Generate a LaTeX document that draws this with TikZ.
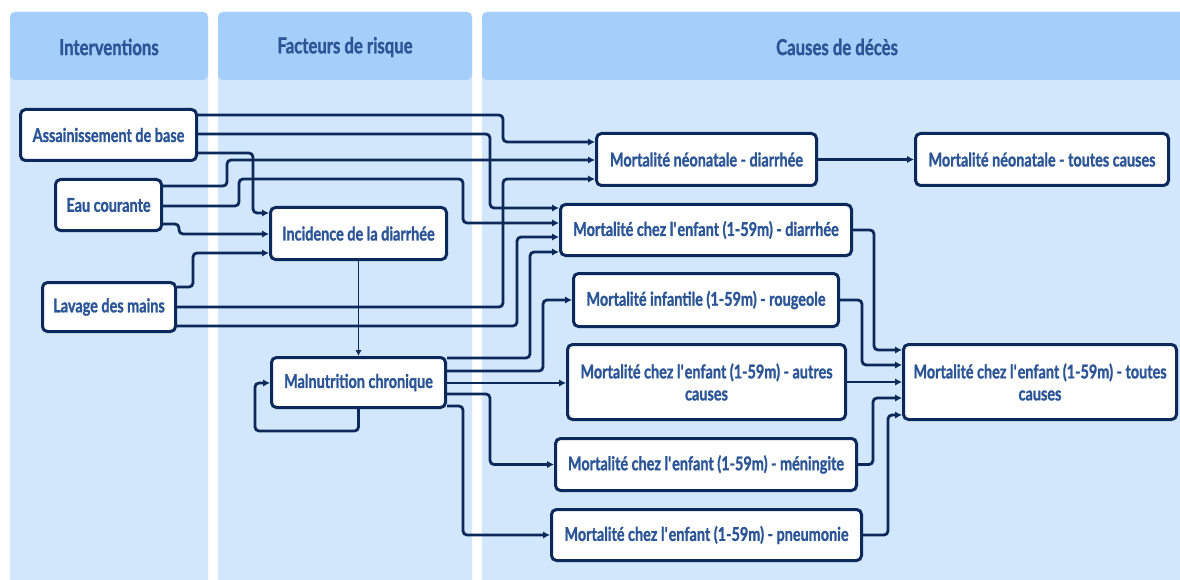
\documentclass[tikz,border=0pt]{standalone}
\usepackage{fontspec}
\setmainfont{Lato}[FakeStretch=0.76, BoldFeatures={FakeBold=1.2}]
\usetikzlibrary{arrows.meta}
\definecolor{navy}{HTML}{0B2A5B}
\definecolor{txtblue}{HTML}{2B5596}
\definecolor{headbg}{HTML}{A6CEFA}
\definecolor{lanebg}{HTML}{D3E7FC}
\newcommand{\apo}{\textquotesingle}
\tikzset{
  lane/.style={fill=lanebg, draw=none, rounded corners=5pt},
  head/.style={fill=headbg, draw=none, rounded corners=5pt},
  headtxt/.style={text=txtblue, font=\fontsize{22}{25}\selectfont\bfseries},
  box/.style={draw=navy, line width=3pt, rounded corners=5pt, fill=white, text=txtblue,
     font=\fontsize{19}{22}\selectfont\bfseries, inner sep=0pt, align=center},
  arr/.style={draw=navy, line width=2.8pt, rounded corners=4pt, -{Latex[length=7pt,width=7.5pt]}},
  thinarr/.style={draw=navy, line width=1.8pt, -{Latex[length=6pt,width=6.5pt]}},
}
\begin{document}
\begin{tikzpicture}[x=1pt,y=-1pt]
\useasboundingbox (0,0) rectangle (1180,580);
\fill[white] (0,0) rectangle (1180,580);
% lanes
\path[lane] (10,12) rectangle (208,600);
\path[lane] (218,12) rectangle (472,600);
\path[lane] (482,12) rectangle (1195,600);
\path[head] (10,12) rectangle (208,80);
\path[head] (218,12) rectangle (472,80);
\path[head] (482,12) rectangle (1195,80);
\node[headtxt] (h1) at (109,47) {Interventions};
\node[headtxt] (h2) at (345,47) {Facteurs de risque};
\node[headtxt] (h3) at (837,47) {Causes de décès};
% nodes
\node[box, minimum width=176pt, minimum height=51pt] (A) at (108.5,135) {Assainissement de base};
\node[box, minimum width=106pt, minimum height=51pt] (E) at (108.5,205) {Eau courante};
\node[box, minimum width=133pt, minimum height=49pt] (L) at (109,307) {Lavage des mains};
\node[box, minimum width=176pt, minimum height=52pt] (Inc) at (358.5,233.5) {Incidence de la diarrhée};
\node[box, minimum width=174pt, minimum height=50pt] (M) at (358.5,382.5) {Malnutrition chronique};
\node[box, minimum width=220pt, minimum height=52pt] (ND) at (706.5,159.5) {Mortalité néonatale - diarrhée};
\node[box, minimum width=253pt, minimum height=52pt] (NDall) at (1042,159.5) {Mortalité néonatale - toutes causes};
\node[box, minimum width=291pt, minimum height=51pt] (ED) at (706,230) {Mortalité chez l\apo enfant (1-59m) - diarrhée};
\node[box, minimum width=265pt, minimum height=53pt] (R) at (706,300) {Mortalité infantile (1-59m) - rougeole};
\node[box, minimum width=278pt, minimum height=75pt] (AC) at (706.5,382) {Mortalité chez l\apo enfant (1-59m) - autres\\causes};
\node[box, minimum width=301pt, minimum height=52pt] (Men) at (706,464.5) {Mortalité chez l\apo enfant (1-59m) - méningite};
\node[box, minimum width=310pt, minimum height=51pt] (P) at (706.5,535) {Mortalité chez l\apo enfant (1-59m) - pneumonie};
\node[box, minimum width=273pt, minimum height=75pt] (All) at (1040,382) {Mortalité chez l\apo enfant (1-59m) - toutes\\causes};
% connectors
\draw[arr] (A.east|-0,115) -- (503,115) -- (503,142) -- (ND.west|-0,142);
\draw[arr] (A.east|-0,134) -- (490,134) -- (490,208) -- (ED.west|-0,208);
\draw[arr] (A.east|-0,153) -- (253,153) -- (253,213) -- (Inc.west|-0,213);
\draw[arr] (E.east|-0,186) -- (227,186) -- (227,160) -- (ND.west|-0,160);
\draw[arr] (E.east|-0,206) -- (239,206) -- (239,179) -- (463,179) -- (463,223) -- (ED.west|-0,223);
\draw[arr] (E.east|-0,224) -- (179,224) -- (179,234) -- (Inc.west|-0,234);
\draw[arr] (L.east|-0,287) -- (193,287) -- (193,253) -- (Inc.west|-0,253);
\draw[arr] (L.east|-0,307) -- (503,307) -- (503,179) -- (ND.west|-0,179);
\draw[arr] (L.east|-0,326) -- (517,326) -- (517,237) -- (ED.west|-0,237);
\draw[thinarr] (Inc.south) -- (M.north);
\draw[arr] (M.south) -- (358.5,431) -- (255,431) -- (255,383) -- (M.west|-0,383);
\draw[arr] (M.east|-0,358) -- (530,358) -- (530,252) -- (ED.west|-0,252);
\draw[arr] (M.east|-0,371) -- (543,371) -- (543,300) -- (R.west);
\draw[arr] (M.east|-0,383) -- (AC.west|-0,383);
\draw[arr] (M.east|-0,394) -- (490,394) -- (490,464.5) -- (Men.west);
\draw[arr] (M.east|-0,406) -- (463,406) -- (463,535) -- (P.west);
\draw[arr] (ND.east) -- (NDall.west);
\draw[arr] (ED.east) -- (874,230) -- (874,350) -- (All.west|-0,350);
\draw[arr] (R.east) -- (862,300) -- (862,365) -- (All.west|-0,365);
\draw[arr] (AC.east|-0,382) -- (All.west|-0,382);
\draw[arr] (Men.east) -- (873,464.5) -- (873,398) -- (All.west|-0,398);
\draw[arr] (P.east) -- (888,535) -- (888,415) -- (All.west|-0,415);
\end{tikzpicture}
\end{document}
